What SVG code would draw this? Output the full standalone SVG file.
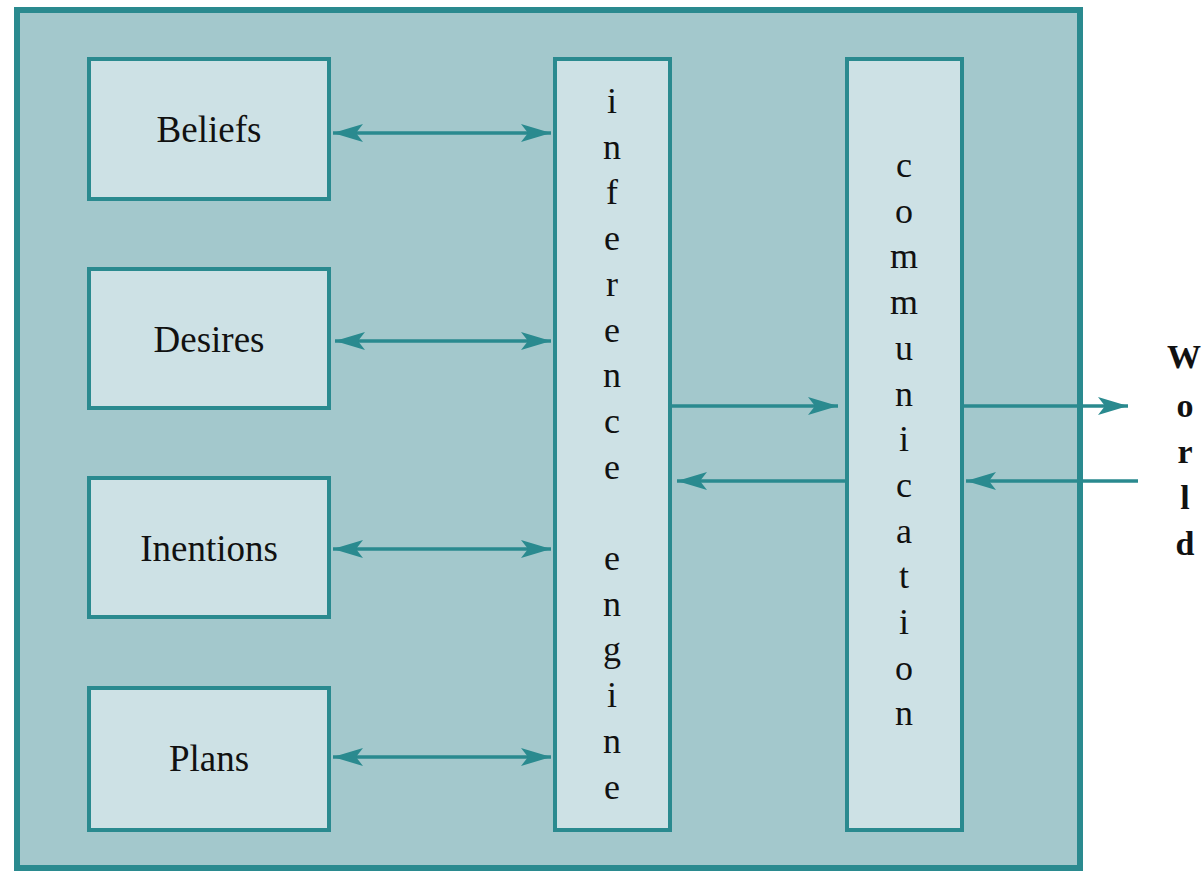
<svg xmlns="http://www.w3.org/2000/svg" width="1204" height="871" viewBox="0 0 1204 871">
<style>
.box{fill:#cde1e5;stroke:#2a8a8f;stroke-width:4}
.lbl{font-family:"Liberation Serif","Times New Roman",serif;font-size:37px;fill:#111;text-anchor:middle}
.vt{font-family:"Liberation Serif","Times New Roman",serif;font-size:36px;fill:#111;text-anchor:middle}
.wt{font-family:"Liberation Serif","Times New Roman",serif;font-size:34px;font-weight:bold;fill:#111;text-anchor:middle}
.con{stroke:#2a8a8f;stroke-width:3.5;fill:none}
</style>
<defs>
<marker id="ah" markerUnits="userSpaceOnUse" markerWidth="32" markerHeight="22" refX="30" refY="11" orient="auto-start-reverse">
<path d="M0,2 L30,11 L0,20 L7,11 z" fill="#2a8a8f"/>
</marker>
</defs>
<rect id="agent" x="17" y="10" width="1063" height="858" fill="#a3c8cc" stroke="#2a8a8f" stroke-width="6"/>
<g id="beliefs"><rect class="box" x="89" y="59" width="240" height="140"/><text class="lbl" x="209" y="142">Beliefs</text></g>
<g id="desires"><rect class="box" x="89" y="269" width="240" height="139"/><text class="lbl" x="209" y="352">Desires</text></g>
<g id="intentions"><rect class="box" x="89" y="478" width="240" height="139"/><text class="lbl" x="209" y="561">Inentions</text></g>
<g id="plans"><rect class="box" x="89" y="688" width="240" height="142"/><text class="lbl" x="209" y="771">Plans</text></g>
<g id="inference"><rect class="box" x="555" y="59" width="115" height="771"/>
<text class="vt" x="612"><tspan x="612" y="113">i</tspan><tspan x="612" y="158.7">n</tspan><tspan x="612" y="204.4">f</tspan><tspan x="612" y="250.1">e</tspan><tspan x="612" y="295.8">r</tspan><tspan x="612" y="341.5">e</tspan><tspan x="612" y="387.2">n</tspan><tspan x="612" y="432.9">c</tspan><tspan x="612" y="478.6">e</tspan><tspan x="612" y="570">e</tspan><tspan x="612" y="615.7">n</tspan><tspan x="612" y="661.4">g</tspan><tspan x="612" y="707.1">i</tspan><tspan x="612" y="752.8">n</tspan><tspan x="612" y="798.5">e</tspan></text></g>
<g id="communication"><rect class="box" x="847" y="59" width="115" height="771"/>
<text class="vt" x="904"><tspan x="904" y="177">c</tspan><tspan x="904" y="222.7">o</tspan><tspan x="904" y="268.4">m</tspan><tspan x="904" y="314.1">m</tspan><tspan x="904" y="359.8">u</tspan><tspan x="904" y="405.5">n</tspan><tspan x="904" y="451.2">i</tspan><tspan x="904" y="496.9">c</tspan><tspan x="904" y="542.6">a</tspan><tspan x="904" y="588.3">t</tspan><tspan x="904" y="634">i</tspan><tspan x="904" y="679.7">o</tspan><tspan x="904" y="725.4">n</tspan></text></g>
<g id="world"><text class="wt" x="1185"><tspan x="1184" y="368">W</tspan><tspan x="1185" y="417">o</tspan><tspan x="1185" y="463">r</tspan><tspan x="1185" y="509">l</tspan><tspan x="1185" y="555">d</tspan></text></g>
<g id="connectors">
<line class="con" x1="333" y1="133" x2="551" y2="133" marker-start="url(#ah)" marker-end="url(#ah)"/>
<line class="con" x1="335" y1="341" x2="551" y2="341" marker-start="url(#ah)" marker-end="url(#ah)"/>
<line class="con" x1="333" y1="549" x2="551" y2="549" marker-start="url(#ah)" marker-end="url(#ah)"/>
<line class="con" x1="333" y1="757" x2="551" y2="757" marker-start="url(#ah)" marker-end="url(#ah)"/>
<line class="con" x1="672" y1="406" x2="838" y2="406" marker-end="url(#ah)"/>
<line class="con" x1="845" y1="481" x2="677" y2="481" marker-end="url(#ah)"/>
<line class="con" x1="963" y1="406" x2="1128" y2="406" marker-end="url(#ah)"/>
<line class="con" x1="1138" y1="481" x2="966" y2="481" marker-end="url(#ah)"/>
</g>
</svg>
